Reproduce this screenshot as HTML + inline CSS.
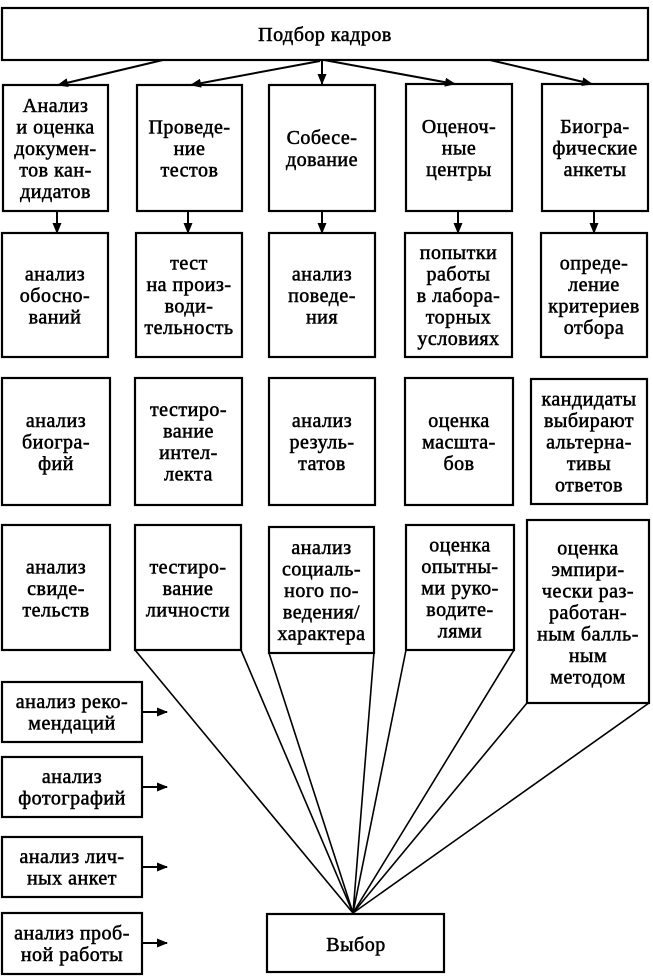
<!DOCTYPE html>
<html>
<head>
<meta charset="utf-8">
<style>
html,body{margin:0;padding:0;background:#fff;}
svg{display:block;}
text{font-family:"Liberation Serif","DejaVu Serif",serif;font-size:20px;fill:#000;text-anchor:middle;letter-spacing:0.5px;stroke:#000;stroke-width:0.55px;}
.b{fill:none;stroke:#000;stroke-width:2.2;}
.l{stroke:#000;stroke-width:1.6;fill:none;}
.a{stroke:#000;stroke-width:2;fill:none;}
</style>
</head>
<body>
<svg width="653" height="976" viewBox="0 0 653 976" xmlns="http://www.w3.org/2000/svg">
<defs>
<marker id="ah" markerUnits="userSpaceOnUse" markerWidth="11" markerHeight="9" refX="10" refY="4.5" orient="auto">
<path d="M0,0 L11,4.5 L0,9 z" fill="#000"/>
</marker>
</defs>

<!-- top box -->
<rect class="b" x="2" y="8" width="646" height="52"/>
<text x="325" y="41">Подбор кадров</text>

<!-- top arrows -->
<line class="a" x1="163" y1="60" x2="58" y2="85" marker-end="url(#ah)"/>
<line class="a" x1="320" y1="61" x2="191" y2="85" marker-end="url(#ah)"/>
<line class="a" x1="322" y1="60" x2="322" y2="84" marker-end="url(#ah)"/>
<line class="a" x1="324" y1="60" x2="455" y2="84" marker-end="url(#ah)"/>
<line class="a" x1="490" y1="60" x2="592" y2="84" marker-end="url(#ah)"/>

<!-- row 1 -->
<rect class="b" x="3" y="85" width="105" height="126"/>
<text x="55.5" y="112">Анализ</text>
<text x="55.5" y="133.5">и оценка</text>
<text x="55.5" y="155">докумен-</text>
<text x="55.5" y="176.5">тов кан-</text>
<text x="55.5" y="198">дидатов</text>

<rect class="b" x="137" y="85" width="105" height="126"/>
<text x="189.5" y="133.5">Проведе-</text>
<text x="189.5" y="155">ние</text>
<text x="189.5" y="176.5">тестов</text>

<rect class="b" x="269" y="85" width="106" height="126"/>
<text x="322" y="144">Собесе-</text>
<text x="322" y="166">дование</text>

<rect class="b" x="406" y="84" width="106" height="127"/>
<text x="459" y="133">Оценоч-</text>
<text x="459" y="154.5">ные</text>
<text x="459" y="176">центры</text>

<rect class="b" x="542" y="84" width="106" height="127"/>
<text x="595" y="133">Биогра-</text>
<text x="595" y="154.5">фические</text>
<text x="595" y="176">анкеты</text>

<!-- down arrows -->
<line class="a" x1="57" y1="211" x2="57" y2="233" marker-end="url(#ah)"/>
<line class="a" x1="188" y1="211" x2="188" y2="233" marker-end="url(#ah)"/>
<line class="a" x1="322" y1="211" x2="322" y2="233" marker-end="url(#ah)"/>
<line class="a" x1="458" y1="211" x2="458" y2="233" marker-end="url(#ah)"/>
<line class="a" x1="594" y1="211" x2="594" y2="233" marker-end="url(#ah)"/>

<!-- row 2 -->
<rect class="b" x="2" y="233" width="106" height="124"/>
<text x="55" y="280.5">анализ</text>
<text x="55" y="302">обосно-</text>
<text x="55" y="323.5">ваний</text>

<rect class="b" x="136" y="233" width="106" height="124"/>
<text x="189" y="269.5">тест</text>
<text x="189" y="291">на произ-</text>
<text x="189" y="312.5">води-</text>
<text x="189" y="334">тельность</text>

<rect class="b" x="269" y="233" width="106" height="124"/>
<text x="322" y="280.5">анализ</text>
<text x="322" y="302">поведе-</text>
<text x="322" y="323.5">ния</text>

<rect class="b" x="405" y="233" width="107" height="124"/>
<text x="458.5" y="259">попытки</text>
<text x="458.5" y="280.5">работы</text>
<text x="458.5" y="302">в лабора-</text>
<text x="458.5" y="323.5">торных</text>
<text x="458.5" y="345">условиях</text>

<rect class="b" x="541" y="233" width="106" height="124"/>
<text x="594" y="269.5">опреде-</text>
<text x="594" y="291">ление</text>
<text x="594" y="312.5">критериев</text>
<text x="594" y="334">отбора</text>

<!-- row 3 -->
<rect class="b" x="2" y="378" width="108" height="127"/>
<text x="56" y="427">анализ</text>
<text x="56" y="448.5">биогра-</text>
<text x="56" y="470">фий</text>

<rect class="b" x="135" y="378" width="107" height="127"/>
<text x="188.5" y="416">тестиро-</text>
<text x="188.5" y="437.5">вание</text>
<text x="188.5" y="459">интел-</text>
<text x="188.5" y="480.5">лекта</text>

<rect class="b" x="269" y="378" width="106" height="127"/>
<text x="322" y="427">анализ</text>
<text x="322" y="448.5">резуль-</text>
<text x="322" y="470">татов</text>

<rect class="b" x="405" y="378" width="108" height="127"/>
<text x="459" y="427">оценка</text>
<text x="459" y="448.5">масшта-</text>
<text x="459" y="470">бов</text>

<rect class="b" x="531" y="379" width="116" height="125"/>
<text x="589" y="405.5">кандидаты</text>
<text x="589" y="427">выбирают</text>
<text x="589" y="448.5">альтерна-</text>
<text x="589" y="470">тивы</text>
<text x="589" y="491.5">ответов</text>

<!-- converging lines -->
<line class="l" x1="135" y1="650" x2="353" y2="913"/>
<line class="l" x1="241" y1="650" x2="353" y2="913"/>
<line class="l" x1="269" y1="653" x2="353" y2="913"/>
<line class="l" x1="374" y1="652" x2="353" y2="913"/>
<line class="l" x1="406" y1="650" x2="353" y2="913"/>
<line class="l" x1="514" y1="650" x2="353" y2="913"/>
<line class="l" x1="527" y1="703" x2="353" y2="913"/>
<line class="l" x1="649" y1="703" x2="353" y2="913"/>

<!-- row 4 -->
<rect class="b" x="2" y="525" width="108" height="125"/>
<text x="56" y="573.5">анализ</text>
<text x="56" y="595">свиде-</text>
<text x="56" y="616.5">тельств</text>

<rect class="b" x="135" y="525" width="106" height="125"/>
<text x="188" y="573.5">тестиро-</text>
<text x="188" y="595">вание</text>
<text x="188" y="616.5">личности</text>

<rect class="b" x="269" y="527" width="105" height="126"/>
<text x="321.5" y="554">анализ</text>
<text x="321.5" y="575.5">социаль-</text>
<text x="321.5" y="597">ного по-</text>
<text x="321.5" y="618.5">ведения/</text>
<text x="321.5" y="640">характера</text>

<rect class="b" x="406" y="525" width="108" height="125"/>
<text x="460" y="551.5">оценка</text>
<text x="460" y="573">опытны-</text>
<text x="460" y="594.5">ми руко-</text>
<text x="460" y="616">водите-</text>
<text x="460" y="637.5">лями</text>

<rect class="b" x="527" y="520" width="122" height="183"/>
<text x="588" y="554.5">оценка</text>
<text x="588" y="576">эмпири-</text>
<text x="588" y="597.5">чески раз-</text>
<text x="588" y="619">работан-</text>
<text x="588" y="640.5">ным балль-</text>
<text x="588" y="662">ным</text>
<text x="588" y="683.5">методом</text>

<!-- left small boxes -->
<rect class="b" x="2" y="682" width="140" height="60"/>
<text x="72" y="708">анализ реко-</text>
<text x="72" y="729.5">мендаций</text>
<line class="a" x1="142" y1="712" x2="167" y2="712" marker-end="url(#ah)"/>

<rect class="b" x="2" y="757" width="140" height="60"/>
<text x="72" y="783">анализ</text>
<text x="72" y="804.5">фотографий</text>
<line class="a" x1="142" y1="787" x2="167" y2="787" marker-end="url(#ah)"/>

<rect class="b" x="2" y="837" width="140" height="60"/>
<text x="72" y="863">анализ лич-</text>
<text x="72" y="884.5">ных анкет</text>
<line class="a" x1="142" y1="867" x2="167" y2="867" marker-end="url(#ah)"/>

<rect class="b" x="2" y="913" width="140" height="61"/>
<text x="72" y="939.5">анализ проб-</text>
<text x="72" y="961">ной работы</text>
<line class="a" x1="142" y1="943" x2="167" y2="943" marker-end="url(#ah)"/>

<!-- Выбор -->
<rect class="b" x="267" y="914" width="177" height="58"/>
<text x="356" y="951">Выбор</text>
</svg>
</body>
</html>
